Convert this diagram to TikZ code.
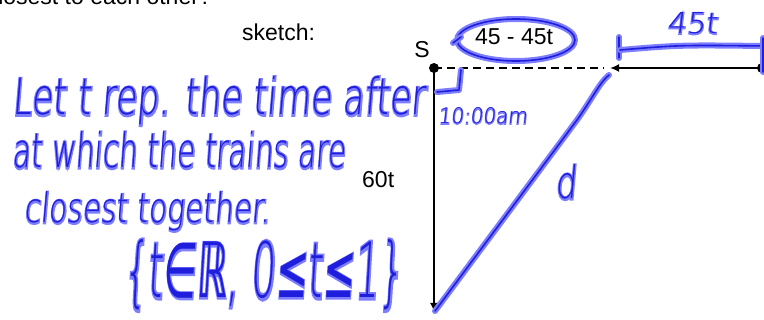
\documentclass[tikz,border=0pt]{standalone}
\usepackage{fontspec}
\usepackage{graphicx}
\usetikzlibrary{arrows.meta}
\setmainfont{Liberation Sans}
\IfFontExistsTF{DejaVu Sans ExtraLight}{%
  \newfontfamily\hand{DejaVu Sans ExtraLight}[FakeSlant=0.12]
  \newfontfamily\handglow{DejaVu Sans ExtraLight}[FakeSlant=0.12,FakeBold=7]
}{%
  \newfontfamily\hand{DejaVu Sans}[FakeSlant=0.12]
  \newfontfamily\handglow{DejaVu Sans}[FakeSlant=0.12,FakeBold=3]
}
\newfontfamily\handsym{DejaVu Sans}[FakeSlant=0.12]
\newfontfamily\handsymglow{DejaVu Sans}[FakeSlant=0.12,FakeBold=4]
\definecolor{hblue}{RGB}{30,30,220}
\definecolor{hglow}{RGB}{125,125,255}
\newsavebox\hwbox
\newcommand\hsym[1]{{\hsymfont #1}}
\newcommand\hw[3]{%
  \let\hsymfont\handsym
  \sbox\hwbox{\hand #3}%
  \pgfmathsetmacro\hwsx{#1/\the\wd\hwbox}%
  \pgfmathsetmacro\hwsy{#2/\the\ht\hwbox}%
  \rlap{\let\hsymfont\handsymglow\scalebox{\hwsx}[\hwsy]{\color{hglow}\handglow #3}}%
  \scalebox{\hwsx}[\hwsy]{\color{hblue}\hand #3}}
\tikzset{
  txt/.style={inner sep=0pt, font=\fontsize{23}{27}\selectfont},
  hwtxt/.style={inner sep=0pt, anchor=base west},
  hwline/.style={draw=hblue, line width=1.6pt, line cap=round, line join=round,
    preaction={draw=hglow, line width=6pt, line cap=round, line join=round}},
  blk/.style={line width=2.5pt}
}
\begin{document}
\begin{tikzpicture}[x=1pt,y=-1pt]
\useasboundingbox (0,0) rectangle (764,320);
\clip (0,0) rectangle (764,320);
% printed text
\node[txt, anchor=base east] (q) at (212,5) {closest to each other?};
\node[txt, anchor=base west] (sk) at (242,41) {sketch:};
\node[txt, anchor=base] (S) at (422,58) {S};
\node[txt, anchor=base] (ex) at (514,45) {45 - 45t};
\node[txt, anchor=base west] (sixty) at (362,188) {60t};
% geometry
\coordinate (Sdot) at (434,68);
\coordinate (R) at (762,68);
\coordinate (M) at (610,68);
\coordinate (Mdash) at (604,68);
\coordinate (B) at (434,312);
\draw[blk, dash pattern=on 8pt off 5pt] (Sdot) -- (Mdash);
\draw[blk, -{Latex[length=9pt,width=8pt]}] (R) -- (M);
\draw[blk, -{Latex[length=9pt,width=8pt]}] (Sdot) -- (B);
\fill (Sdot) circle (5);
\fill (R) circle (5);
% handwritten strokes
\draw[hwline] (461,70) -- (459,90) -- (437,92);
\draw[hwline] (435,311) -- (577,120) .. controls (592,99) and (600,82) .. (609,75);
\draw[hwline] (516,40) ellipse [x radius=59, y radius=21];
\draw[hwline] (453,43) -- (461,37);
\draw[hwline] (619,37) -- (619,58);
\draw[hwline] (620,50) .. controls (680,45) .. (764,46);
\draw[hwline] (763,38) -- (763,72);
% handwritten text
\node[hwtxt] (l1) at (12,115) {\hw{413}{38}{Let t rep. the time after}};
\node[hwtxt] (l2) at (12,168) {\hw{333}{36}{at which the trains are}};
\node[hwtxt] (l3) at (24,223) {\hw{246}{31}{closest together.}};
\node[hwtxt] (l4) at (123,298) {\hw{280}{58}{\{t\hsym{∈ℝ}, 0\hsym{≤}t\hsym{≤}1\}}};
\node[hwtxt] (ten) at (438,124) {\hw{89}{16}{10:00am}};
\node[hwtxt] (ft) at (667,34) {\hw{50}{21}{45t}};
\node[hwtxt] (d) at (555,199) {\hw{21}{34}{d}};
\end{tikzpicture}
\end{document}
